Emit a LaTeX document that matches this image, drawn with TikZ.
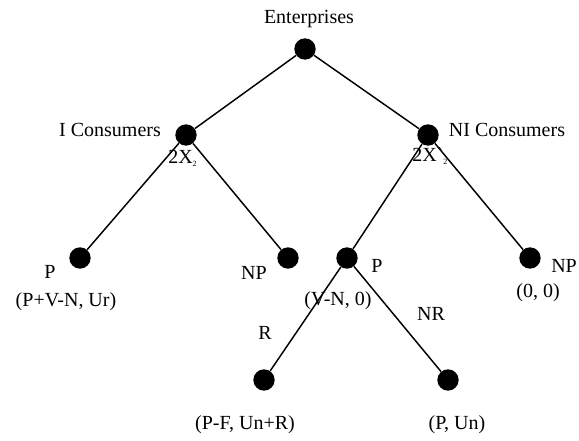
\documentclass[tikz,border=0pt]{standalone}
\usepackage{fontspec}
\setmainfont{Liberation Serif}
\begin{document}
\begin{tikzpicture}[x=0.75pt,y=-0.75pt,
  dot/.style={circle,fill=black,inner sep=0pt,minimum size=16pt},
  lbl/.style={inner sep=0pt,font=\fontsize{15}{18}\selectfont},
  edge/.style={line width=1.1pt,black}]
\useasboundingbox (0,0) rectangle (579,441);
\newcommand{\smallsub}[1]{\raisebox{-0.35ex}{\fontsize{6}{7}\selectfont #1}}
% nodes
\node[dot] (root) at (305,49) {};
\node[dot] (ic)   at (186,135) {};
\node[dot] (nic)  at (428,135) {};
\node[dot] (p1)   at (80,258) {};
\node[dot] (np1)  at (288,258) {};
\node[dot] (p2)   at (347,258) {};
\node[dot] (np2)  at (530,258) {};
\node[dot] (r)    at (264,380) {};
\node[dot] (nr)   at (448,380) {};
% edges
\draw[edge] (root) -- (ic);
\draw[edge] (root) -- (nic);
\draw[edge] (ic) -- (p1);
\draw[edge] (ic) -- (np1);
\draw[edge] (nic) -- (p2);
\draw[edge] (nic) -- (np2);
\draw[edge] (p2) -- (r);
\draw[edge] (p2) -- (nr);
% labels
\node[lbl] (tEnt) at (309,19) {Enterprises};
\node[lbl] (tIC) at (110,130) {I Consumers};
\node[lbl] (tNIC) at (507,130) {NI Consumers};
\node[lbl,anchor=west] (tx1) at (168,158) {2X\smallsub{2}};
\node[lbl,anchor=west] (tx2) at (412,156) {2X\textasciigrave\smallsub{2}};
\node[lbl] (tP1) at (50,272) {P};
\node[lbl] (tNP1) at (254,273) {NP};
\node[lbl] (tpay1) at (66,302) {(P+V-N, Ur)};
\node[lbl,anchor=west] (tP2) at (371,266) {P};
\node[lbl,anchor=west] (tNP2) at (551,266) {NP};
\node[lbl] (tpay2) at (338,301) {(V-N, 0)};
\node[lbl] (tpay3) at (538,293) {(0, 0)};
\node[lbl] (tR) at (265,333) {R};
\node[lbl] (tNR) at (431,314) {NR};
\node[lbl] (tpay4) at (245,425) {(P-F, Un+R)};
\node[lbl] (tpay5) at (457,425) {(P, Un)};
\end{tikzpicture}
\end{document}
